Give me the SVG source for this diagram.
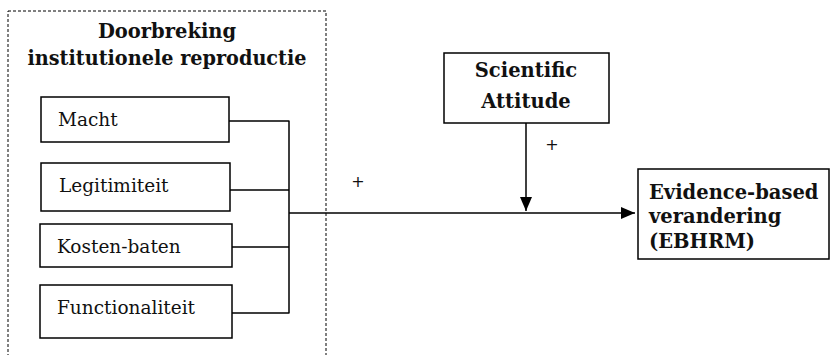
<svg xmlns="http://www.w3.org/2000/svg" width="830" height="355" viewBox="0 0 830 355">
<defs>
<style>
.box{fill:#fff;stroke:#000;stroke-width:1.5}
.lbl{font-family:"DejaVu Serif","Liberation Serif",serif;font-size:18.5px;fill:#111}
.ttl{font-family:"DejaVu Serif","Liberation Serif",serif;font-size:19.5px;font-weight:bold;fill:#111}
.ln{fill:none;stroke:#000;stroke-width:1.5}
.plus{font-family:"DejaVu Sans","Liberation Sans",sans-serif;font-size:16px;fill:#111}
</style>
<marker id="ah" viewBox="0 0 14 12" refX="14" refY="6" markerWidth="14" markerHeight="12" markerUnits="userSpaceOnUse" orient="auto">
<path d="M0,0 L14,6 L0,12 Z" fill="#000"/>
</marker>
</defs>
<rect width="830" height="355" fill="#fff"/>
<g id="group-doorbreking">
<rect x="8" y="11" width="318" height="360" fill="none" stroke="#000" stroke-width="1" stroke-dasharray="3,2"/>
<text class="ttl" x="167" y="38" text-anchor="middle" font-size="20.5">Doorbreking</text>
<text class="ttl" x="167" y="65" text-anchor="middle" textLength="279" lengthAdjust="spacingAndGlyphs">institutionele reproductie</text>
</g>
<g id="node-macht">
<rect class="box" x="41" y="97" width="188" height="45"/>
<text class="lbl" x="58" y="126">Macht</text>
</g>
<g id="node-legitimiteit">
<rect class="box" x="41" y="163" width="189" height="48"/>
<text class="lbl" x="59" y="192">Legitimiteit</text>
</g>
<g id="node-kosten">
<rect class="box" x="40" y="224" width="192" height="43"/>
<text class="lbl" x="57" y="253">Kosten-baten</text>
</g>
<g id="node-functionaliteit">
<rect class="box" x="40" y="285" width="192" height="53"/>
<text class="lbl" x="57" y="314">Functionaliteit</text>
</g>
<g id="node-scientific">
<rect class="box" x="444" y="53" width="165" height="70"/>
<text class="ttl" x="526" y="77" text-anchor="middle">Scientific</text>
<text class="ttl" x="526" y="108" text-anchor="middle">Attitude</text>
</g>
<g id="node-ebhrm">
<rect class="box" x="638" y="169" width="191" height="90"/>
<text class="ttl" x="649" y="199" font-size="21">Evidence-based</text>
<text class="ttl" x="649" y="223" font-size="21">verandering</text>
<text class="ttl" x="649" y="248" font-size="21">(EBHRM)</text>
</g>
<g id="connectors">
<path class="ln" d="M229,121 H289 M230,190 H289 M232,247 H289 M232,313 H289 M289,120.5 V313.5"/>
<path class="ln" d="M289,213 H635" marker-end="url(#ah)"/>
<path class="ln" d="M526,123 V211" marker-end="url(#ah)"/>
<text class="plus" x="552" y="150" text-anchor="middle">+</text>
<text class="plus" x="358" y="187" text-anchor="middle">+</text>
</g>
</svg>
